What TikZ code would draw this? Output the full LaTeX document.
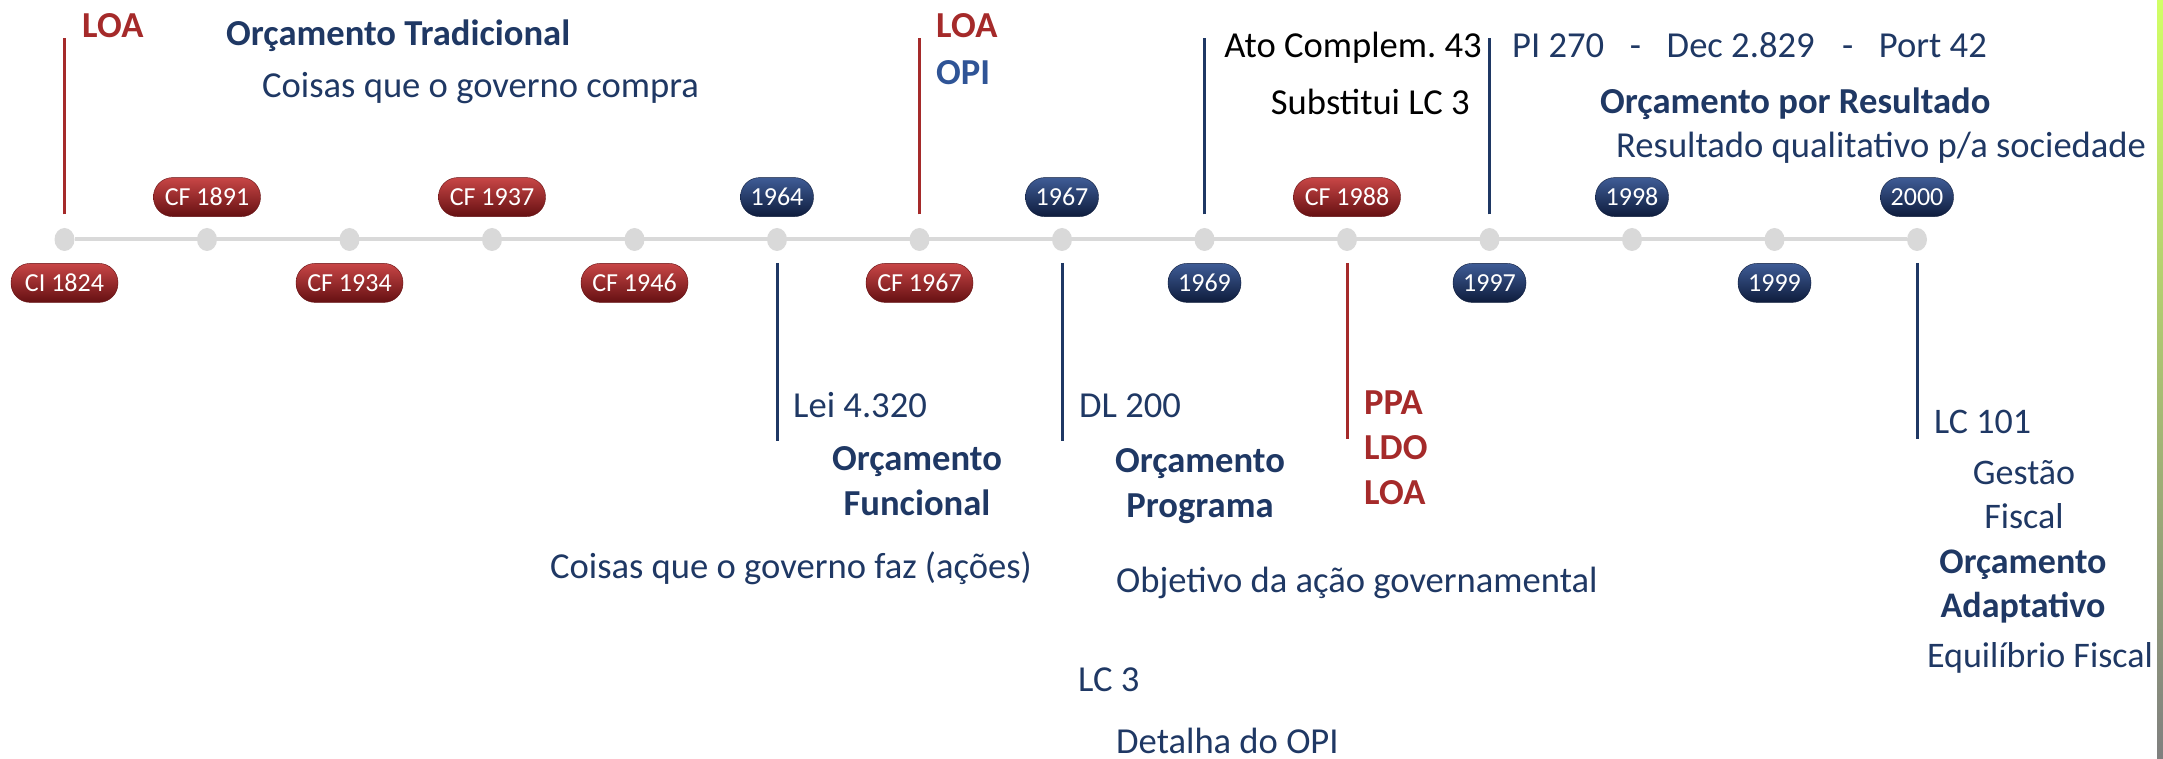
\documentclass[tikz,border=0pt]{standalone}
\usepackage{fontspec}
\setmainfont{Carlito}
\frenchspacing
\usepackage{tikz}
\usetikzlibrary{shapes.geometric,positioning}
\definecolor{dotgray}{HTML}{D9D9D9}
\definecolor{txtnavy}{HTML}{1F3864}
\definecolor{txtred}{HTML}{A52A2A}
\definecolor{opiblue}{HTML}{2F5496}
\definecolor{pillredtop}{HTML}{C84646}
\definecolor{pillred}{HTML}{A82A2B}
\definecolor{pillredbot}{HTML}{651012}
\definecolor{pillbluetop}{HTML}{3F5C96}
\definecolor{pillblue}{HTML}{213D70}
\definecolor{pillbluebot}{HTML}{0E1C3C}

\begin{document}
\begin{tikzpicture}[
  x=1pt,y=1pt,
  font=\fontsize{36.6}{45}\selectfont,
  dot/.style={ellipse,fill=dotgray,minimum width=20pt,minimum height=23pt,inner sep=0pt},
  pill/.style={rectangle,rounded corners=19pt,minimum height=39pt,inner sep=0pt,text=white,font=\fontsize{26}{30}\selectfont},
  redpill/.style={pill,minimum width=107pt,draw=pillredbot,top color=pillredtop,middle color=pillred,bottom color=pillredbot},
  bluepill/.style={pill,minimum width=73pt,draw=pillbluebot,top color=pillbluetop,middle color=pillblue,bottom color=pillbluebot},
  vline/.style={line width=3pt},
  txt/.style={inner sep=0pt,text=txtnavy},
  bld/.style={txt,font=\fontsize{36.6}{45}\selectfont\bfseries},
  tight/.style={font=\fontsize{36}{44}\selectfont}
]
\useasboundingbox (0,0) rectangle (2163,-759);
% timeline
\foreach \k in {0,...,13}
  \node[dot] (d\k) at ({64.5+142.5*\k},-239.5) {};
\draw[line width=4pt,dotgray] (d0) -- (d13);

\node[redpill,below=12pt of d0] (p0) {CI 1824};
\node[redpill,above=11pt of d1] (p1) {CF 1891};
\node[redpill,below=12pt of d2] (p2) {CF 1934};
\node[redpill,above=11pt of d3] (p3) {CF 1937};
\node[redpill,below=12pt of d4] (p4) {CF 1946};
\node[bluepill,above=11pt of d5] (p5) {1964};
\node[redpill,below=12pt of d6] (p6) {CF 1967};
\node[bluepill,above=11pt of d7] (p7) {1967};
\node[bluepill,below=12pt of d8] (p8) {1969};
\node[redpill,above=11pt of d9] (p9) {CF 1988};
\node[bluepill,below=12pt of d10] (p10) {1997};
\node[bluepill,above=11pt of d11] (p11) {1998};
\node[bluepill,below=12pt of d12] (p12) {1999};
\node[bluepill,above=11pt of d13] (p13) {2000};

% marcos acima
\draw[vline,txtred] ([yshift=25pt]d0.center) -- ([yshift=201pt]d0.center);
\draw[vline,txtred] ([yshift=25pt]d6.center) -- ([yshift=201pt]d6.center);
\draw[vline,txtnavy] ([yshift=25pt]d8.center) -- ([yshift=201pt]d8.center);
\draw[vline,txtnavy] ([yshift=25pt]d10.center) -- ([yshift=201pt]d10.center);
% marcos abaixo
\draw[vline,txtnavy] ([yshift=-23.5pt]d5.center) -- ([yshift=-201pt]d5.center);
\draw[vline,txtnavy] ([yshift=-23.5pt]d7.center) -- ([yshift=-201pt]d7.center);
\draw[vline,txtred] ([yshift=-23.5pt]d9.center) -- ([yshift=-199pt]d9.center);
\draw[vline,txtnavy] ([yshift=-23.5pt]d13.center) -- ([yshift=-199pt]d13.center);

% textos acima
\node[bld,text=txtred,anchor=base west] (loa1) at (82,-38) {LOA};
\node[bld,anchor=base west] (trad) at (226,-46) {Orçamento Tradicional};
\node[txt,anchor=base west] (compra) at (262,-98) {Coisas que o governo compra};
\node[bld,text=txtred,anchor=base west] (loa2) at (936,-38) {LOA};
\node[bld,text=opiblue,anchor=base west] (opi) at (936,-85) {OPI};
\node[txt,text=black,anchor=base east] (ato) at (1482,-58) {Ato Complem. 43};
\node[txt,text=black,anchor=base east] (subst) at (1470,-115) {Substitui LC 3};
\node[txt,anchor=base west] (pi) at (1512,-58) {PI 270\hspace{0.7em}-\hspace{0.7em}Dec 2.829\hspace{0.75em}-\hspace{0.7em}Port 42};
\node[bld,anchor=base west] (result) at (1600,-114) {Orçamento por Resultado};
\node[txt,anchor=base west] (qualit) at (1616,-158) {Resultado qualitativo p/a sociedade};

% textos abaixo
\node[txt,anchor=base west] (lei) at (793,-417) {Lei 4.320};
\node[bld,align=center,anchor=base] (func) at (917,-515) {Orçamento\\Funcional};
\node[txt,anchor=base east] (acoes) at (1032,-578) {Coisas que o governo faz (ações)};
\node[txt,anchor=base west] (dl) at (1079,-417) {DL 200};
\node[bld,align=center,anchor=base] (prog) at (1200,-517) {Orçamento\\Programa};
\node[txt,anchor=base west] (obj) at (1116,-592) {Objetivo da ação governamental};
\node[txt,anchor=base west] (lc3) at (1078,-691) {LC 3};
\node[txt,anchor=base west] (det) at (1116,-753) {Detalha do OPI};
\node[bld,text=txtred,align=left,anchor=base west] (ppa) at (1364,-504) {PPA\\LDO\\LOA};
\node[txt,tight,anchor=base west] (lc101) at (1934,-433) {LC 101};
\node[txt,tight,align=center,anchor=base] (gest) at (2024,-528) {Gestão\\Fiscal};
\node[bld,tight,align=center,anchor=base] (adapt) at (2023,-617) {\bfseries Orçamento\\\bfseries Adaptativo};
\node[txt,tight,anchor=base] (equil) at (2040,-667) {Equilíbrio Fiscal};

% borda do slide
\shade[top color=green!30!yellow!60,middle color=green!35!black,bottom color=gray] (2157,0) rectangle (2163,-759);
\end{tikzpicture}
\end{document}
